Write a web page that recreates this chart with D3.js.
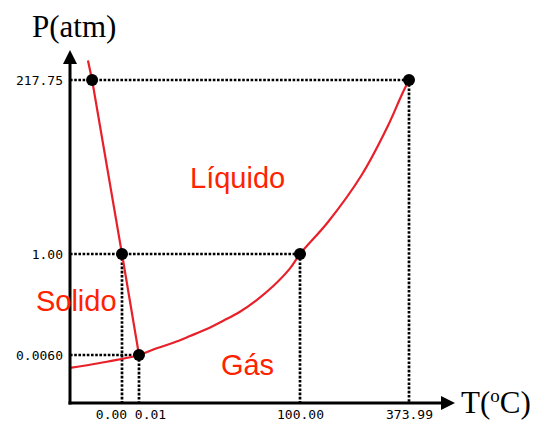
<!DOCTYPE html>
<html>
<head>
<meta charset="utf-8">
<script src="https://cdn.jsdelivr.net/npm/d3@7"></script>
<style>
  body { margin: 0; background: #fff; }
  svg { display: block; }
</style>
</head>
<body>
<script>
  var w = 546;
  var h = 425;

  // ticks (schematic, not to scale)
  var tTicks = [0, 0.01, 100, 373.99];
  var tLabels = ["0.00", "0.01", "100.00", "373.99"];
  var pTicks = [0.006, 1, 217.75];
  var pLabels = ["0.0060", "1.00", "217.75"];

  // special points: [T, P]
  var points = [[-11.5, 217.75], [0, 1], [0.01, 0.006], [100, 1], [373.99, 217.75]];

  // solid-liquid line
  var fusion = [[-13.1, 242], [-11.5, 217.75], [0, 1], [0.01, 0.006]];

  // liquid-gas / solid-gas curve
  var vapor = [
    [-20, 0.0044], [-8.5, 0.005], [0.01, 0.006], [11, 0.072], [21.3, 0.127],
    [31.7, 0.193], [42.1, 0.262], [52.4, 0.344], [62.7, 0.432], [73.1, 0.547],
    [83.4, 0.685], [93.8, 0.859], [100, 1], [171, 41.2], [255, 99.4],
    [322, 161.7], [355.6, 199.1], [373.99, 217.75]
  ];

  // dotted guides: [T, P] of the point they come from
  var hGuides = [[0.01, 0.006], [100, 1], [373.99, 217.75]];
  var vGuides = [[0, 1], [0.01, 0.006], [100, 1], [373.99, 217.75]];

  var regions = [
    {name: "Líquido", t: 31.7, p: 83},
    {name: "Solido", t: -33.1, p: 0.439},
    {name: "Gás", t: 50.9, p: 0.0035}
  ];

  // piecewise scales give the schematic spacing of the picture
  var x = d3.scaleLinear().domain([-20, 0, 0.01, 100, 373.99]).range([70, 122, 139, 300, 409]);
  var y = d3.scaleLinear().domain([0, 0.006, 1, 217.75]).range([403, 355, 254, 80]);

  var x0 = 70, y0 = 403;
  var red = "#e8202a";

  var svg = d3.select("body").append("svg")
              .attr("width", w)
              .attr("height", h);

  // guides
  var dash = "2.6,1.6";
  svg.selectAll(".hg")
     .data(hGuides)
     .enter()
     .append("line")
     .attr("x1", x0)
     .attr("x2", function(d){ return x(d[0]); })
     .attr("y1", function(d){ return y(d[1]); })
     .attr("y2", function(d){ return y(d[1]); })
     .attr("stroke", "#000")
     .attr("stroke-width", 2.7)
     .attr("stroke-dasharray", dash);

  svg.selectAll(".vg")
     .data(vGuides)
     .enter()
     .append("line")
     .attr("x1", function(d){ return x(d[0]); })
     .attr("x2", function(d){ return x(d[0]); })
     .attr("y1", function(d){ return y(d[1]); })
     .attr("y2", y0)
     .attr("stroke", "#000")
     .attr("stroke-width", 2.7)
     .attr("stroke-dasharray", dash);

  // curves
  var line = d3.line()
               .x(function(d){ return x(d[0]); })
               .y(function(d){ return y(d[1]); });

  svg.append("path")
     .attr("d", line(fusion))
     .attr("fill", "none")
     .attr("stroke", red)
     .attr("stroke-width", 2.2);

  svg.append("path")
     .attr("d", line.curve(d3.curveCatmullRom)(vapor))
     .attr("fill", "none")
     .attr("stroke", red)
     .attr("stroke-width", 2.2);

  svg.selectAll("circle")
     .data(points)
     .enter()
     .append("circle")
     .attr("cx", function(d){ return x(d[0]); })
     .attr("cy", function(d){ return y(d[1]); })
     .attr("r", 6)
     .attr("fill", "#000");

  // axes (labels only, lines drawn with arrows)
  var xAxis = svg.append("g")
     .attr("transform", "translate(0," + y0 + ")")
     .call(d3.axisBottom(x).tickValues(tTicks).tickSize(0).tickPadding(7)
             .tickFormat(function(d, i){ return tLabels[i]; }));
  var yAxis = svg.append("g")
     .attr("transform", "translate(" + x0 + ",0)")
     .call(d3.axisLeft(y).tickValues(pTicks).tickSize(0).tickPadding(7)
             .tickFormat(function(d, i){ return pLabels[i]; }));
  [xAxis, yAxis].forEach(function(g){
    g.select(".domain").remove();
    g.selectAll("text")
     .attr("font-family", "DejaVu Sans Mono")
     .attr("font-size", 13)
     .attr("fill", "#000");
  });
  xAxis.selectAll("text").attr("dx", function(d, i){ return i == 0 ? -11 : (i == 1 ? 11 : 0); });

  svg.append("line")
     .attr("x1", x0).attr("y1", y0 + 1.5)
     .attr("x2", x0).attr("y2", 60)
     .attr("stroke", "#000").attr("stroke-width", 3);
  svg.append("line")
     .attr("x1", x0 - 1.5).attr("y1", y0)
     .attr("x2", 446).attr("y2", y0)
     .attr("stroke", "#000").attr("stroke-width", 3);
  svg.append("path")
     .attr("d", "M" + x0 + ",50L" + (x0 - 7) + ",64L" + (x0 + 7) + ",64Z")
     .attr("fill", "#000");
  svg.append("path")
     .attr("d", "M455," + y0 + "L441," + (y0 - 7) + "L441," + (y0 + 7) + "Z")
     .attr("fill", "#000");

  // axis titles
  svg.append("text")
     .attr("x", 32).attr("y", 37)
     .attr("font-family", "Liberation Serif")
     .attr("font-size", 31)
     .text("P(atm)");

  var tt = svg.append("text")
     .attr("x", 461).attr("y", 413)
     .attr("font-family", "Liberation Serif")
     .attr("font-size", 31);
  tt.append("tspan").text("T(");
  tt.append("tspan").attr("font-size", 19).attr("dy", -11).text("o");
  tt.append("tspan").attr("dy", 11).text("C)");

  // region names
  svg.selectAll(".region")
     .data(regions)
     .enter()
     .append("text")
     .attr("x", function(d){ return x(d.t); })
     .attr("y", function(d){ return y(d.p); })
     .attr("font-family", "Liberation Sans")
     .attr("font-size", 29)
     .attr("fill", "#ff2200")
     .text(function(d){ return d.name; });
</script>
</body>
</html>
